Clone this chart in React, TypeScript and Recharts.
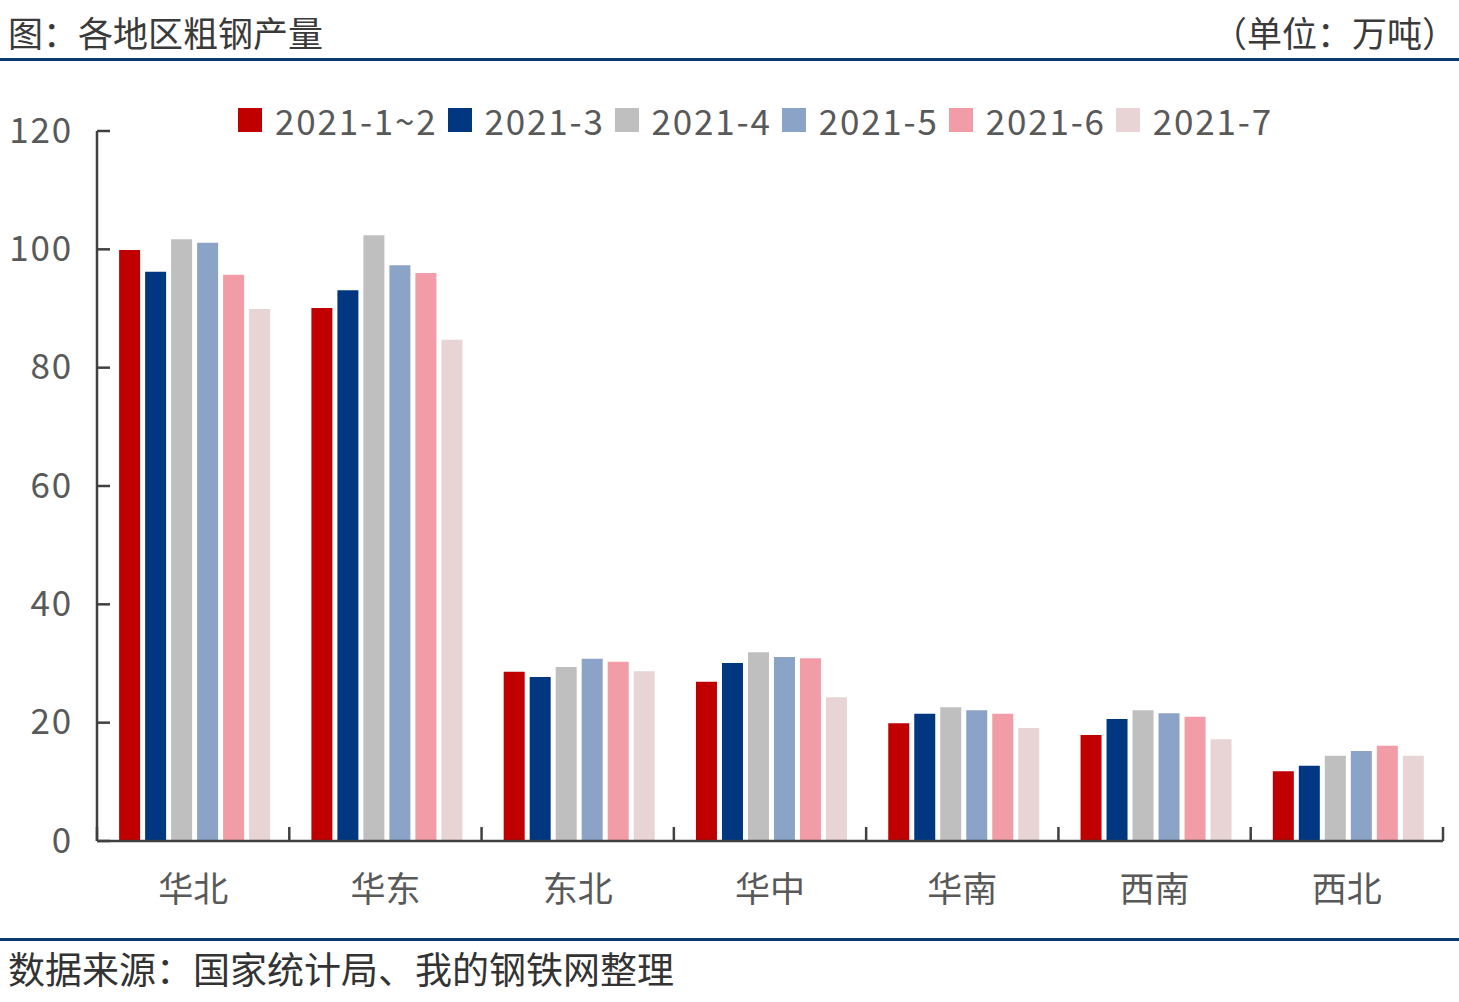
import React from 'react';
import { BarChart, Bar, XAxis, YAxis } from 'recharts';

const categories = ['华北', '华东', '东北', '华中', '华南', '西南', '西北'];
const seriesNames = ['2021-1~2', '2021-3', '2021-4', '2021-5', '2021-6', '2021-7'];
const s1 = [99.9, 90.1, 28.6, 26.9, 19.9, 17.9, 11.8];
const s2 = [96.2, 93.1, 27.7, 30.1, 21.5, 20.6, 12.7];
const s3 = [101.7, 102.4, 29.4, 31.9, 22.6, 22.1, 14.4];
const s4 = [101.1, 97.3, 30.8, 31.1, 22.1, 21.6, 15.2];
const s5 = [95.7, 96.0, 30.3, 30.9, 21.5, 21.0, 16.1];
const s6 = [89.9, 84.7, 28.7, 24.3, 19.1, 17.2, 14.4];
const yTicks = [0, 20, 40, 60, 80, 100, 120];
const colors = ['#C00000', '#003780', '#BFBFBF', '#8BA3C7', '#F19CA6', '#E8D4D4'];

const allSeries = [s1, s2, s3, s4, s5, s6];
const keys = ['s1', 's2', 's3', 's4', 's5', 's6'];
const data = categories.map((c, i) => {
  const row: any = { name: c };
  allSeries.forEach((s, k) => { row[keys[k]] = s[i]; });
  return row;
});

const FONT = '"Noto Sans CJK SC", "Noto Sans", sans-serif';
const AXIS = '#404040';
const TEXT = '#595959';

const YTick = (props: any) => {
  const { x, y, payload } = props;
  return (
    <g>
      <line x1={x} x2={x + 13} y1={y} y2={y} stroke={AXIS} strokeWidth={2.5} />
      <text x={x - 24} y={y - 4} textAnchor="end" dominantBaseline="central" fontSize={35} letterSpacing={1.8} fill={TEXT} fontFamily={FONT}>{payload.value}</text>
    </g>
  );
};

const XTick = (props: any) => {
  const { x, y, payload, index, visibleTicksCount } = props;
  const half = payload.offset || 0;
  return (
    <g>
      <line x1={x - half} x2={x - half} y1={y} y2={y - 14} stroke={AXIS} strokeWidth={2.5} />
      {index === visibleTicksCount - 1 && (
        <line x1={x + half} x2={x + half} y1={y} y2={y - 14} stroke={AXIS} strokeWidth={2.5} />
      )}
      <text x={x} y={y + 45} textAnchor="middle" dominantBaseline="central" fontSize={35} fill={TEXT} fontFamily={FONT}>
        {payload.value}
      </text>
    </g>
  );
};

export default function App() {
  return (
    <div style={{ position: 'absolute', left: 0, top: 0, width: 1459, height: 1002, background: '#fff', fontFamily: FONT, overflow: 'hidden' }}>
      <div style={{ position: 'absolute', left: 8, top: 9, fontSize: 35, lineHeight: '46px', color: '#3a3a3a' }}>图：各地区粗钢产量</div>
      <div style={{ position: 'absolute', right: 2, top: 9, fontSize: 35, lineHeight: '46px', color: '#3a3a3a' }}>（单位：万吨）</div>
      <div style={{ position: 'absolute', left: 0, top: 58, width: 1459, height: 3, background: '#0B3A6E' }} />
      <div style={{ position: 'absolute', left: 0, top: 938, width: 1459, height: 3, background: '#0B3A6E' }} />
      <div style={{ position: 'absolute', left: 8, top: 944, fontSize: 37, lineHeight: '48px', color: '#333' }}>数据来源：国家统计局、我的钢铁网整理</div>
      <div style={{ position: 'absolute', left: 238, top: 97, display: 'flex', alignItems: 'center', height: 46 }}>
        {seriesNames.map((n, i) => (
          <div key={n} style={{ display: 'flex', alignItems: 'center', marginRight: 10 }}>
            <div style={{ width: 24, height: 24, background: colors[i], marginRight: 13 }} />
            <span style={{ fontSize: 35, color: TEXT, lineHeight: '46px', letterSpacing: 1.8 }}>{n}</span>
          </div>
        ))}
      </div>
      <div style={{ position: 'absolute', left: 0, top: 0 }}>
        <BarChart width={1459} height={1002} data={data} margin={{ top: 131, right: 16, bottom: 101, left: 0 }} barCategoryGap="11.5%" barGap={5}>
          <XAxis dataKey="name" type="category" interval={0} height={60} tickSize={0} tickMargin={0} tickLine={false} axisLine={{ stroke: AXIS, strokeWidth: 2.5 }} tick={<XTick />} />
          <YAxis domain={[0, 120]} ticks={yTicks} interval={0} width={97} tickSize={0} tickMargin={0} tickLine={false} axisLine={{ stroke: AXIS, strokeWidth: 2.5 }} tick={<YTick />} />
          {keys.map((k, i) => (
            <Bar key={k} dataKey={k} fill={colors[i]} isAnimationActive={false} name={seriesNames[i]} />
          ))}
        </BarChart>
      </div>
    </div>
  );
}
